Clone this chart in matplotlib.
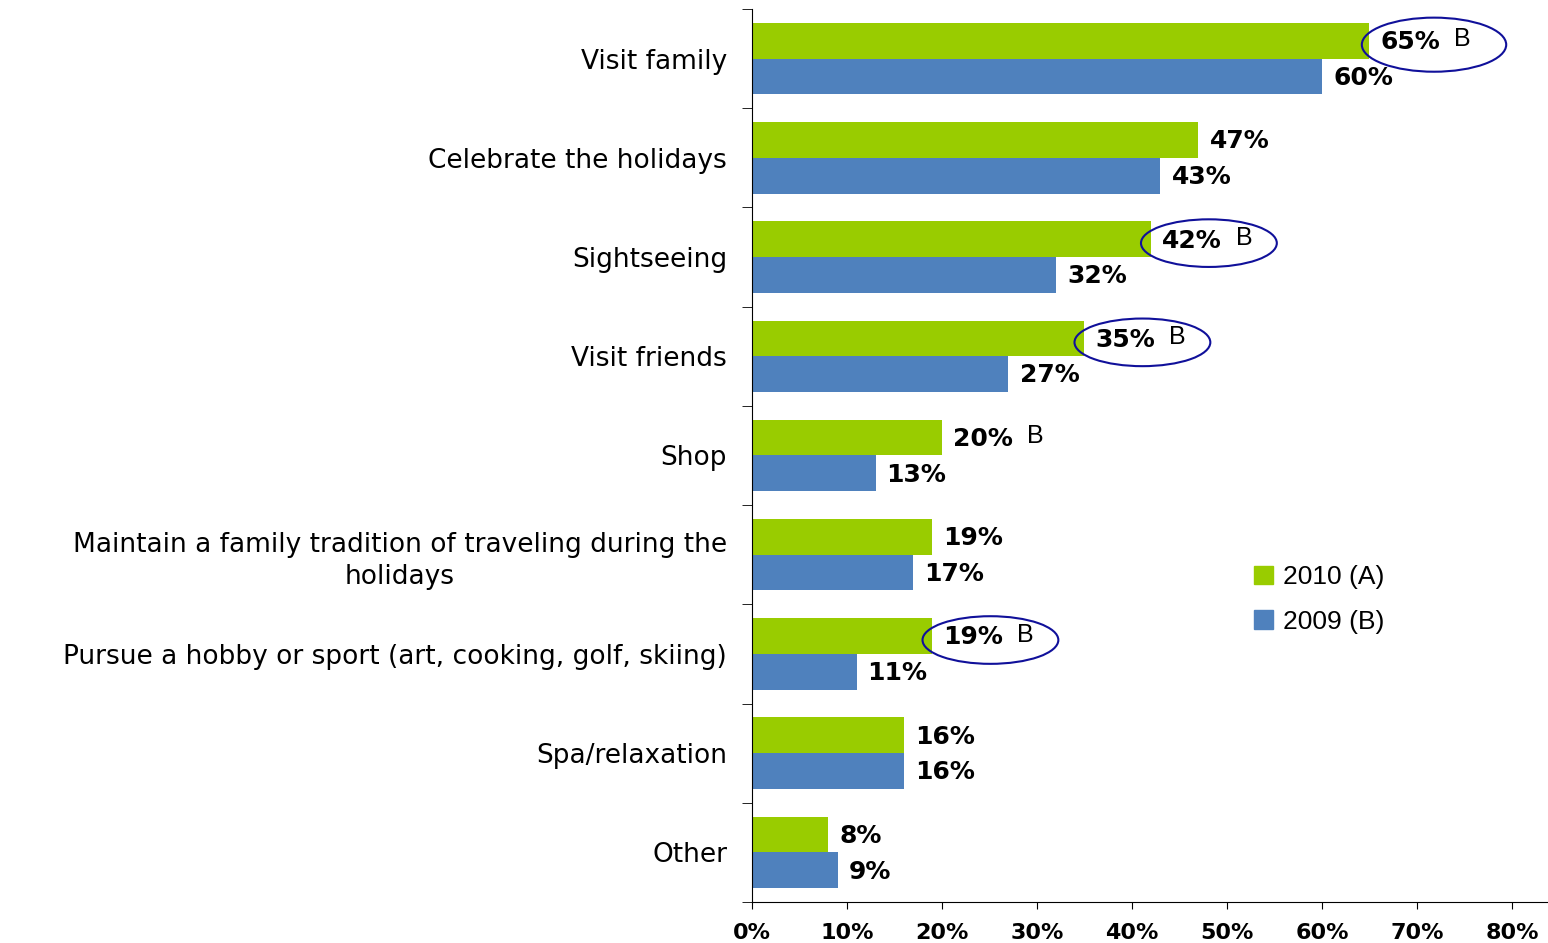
import matplotlib.pyplot as plt
from matplotlib.patches import Ellipse, Patch

plt.rcParams['font.family'] = ['DejaVu Sans']

# reasons for holiday travel, share of respondents
categories = ['Visit family', 'Celebrate the holidays', 'Sightseeing', 'Visit friends', 'Shop',
              'Maintain a family tradition of traveling during the\nholidays',
              'Pursue a hobby or sport (art, cooking, golf, skiing)', 'Spa/relaxation', 'Other']
y2010 = [65, 47, 42, 35, 20, 19, 19, 16, 8]
y2009 = [60, 43, 32, 27, 13, 17, 11, 16, 9]
sig_b = [True, False, True, True, True, False, True, False, False]       # "B" marker
circled = [True, False, True, True, False, False, True, False, False]    # ellipse around label
xticks = [0, 10, 20, 30, 40, 50, 60, 70, 80]

green = '#99CC00'
blue = '#4F81BD'
navy = '#10109A'

fig = plt.figure(figsize=(15.48, 9.43), dpi=100)
ax = fig.add_axes([0.4858, 0.0435, 0.5142, 0.947])

h = 0.36
ypos = list(range(len(categories)))
ax.barh([y - h / 2 for y in ypos], y2010, height=h, color=green, label='2010 (A)')
ax.barh([y + h / 2 for y in ypos], y2009, height=h, color=blue, label='2009 (B)')

for i, y in enumerate(ypos):
    ax.annotate('%d%%' % y2010[i], (y2010[i], y - h / 2), xytext=(8, -1), textcoords='offset points',
                va='center', ha='left', fontsize=18, fontweight='bold')
    ax.annotate('%d%%' % y2009[i], (y2009[i], y + h / 2), xytext=(8, -1), textcoords='offset points',
                va='center', ha='left', fontsize=18, fontweight='bold')
    if sig_b[i]:
        ax.annotate('B', (y2010[i], y - h / 2), xytext=(61, 1), textcoords='offset points',
                    va='center', ha='left', fontsize=18, family='Liberation Sans')
    if circled[i]:
        if i == 0:
            cx, w, eh = 6.8, 15.2, 0.545
        else:
            cx, w, eh = 6.1, 14.3, 0.48
        ax.add_patch(Ellipse((y2010[i] + cx, y - h / 2 + 0.04), w, eh, fill=False,
                             edgecolor=navy, lw=1.5, zorder=5))

ax.set_xlim(0, 83.8)
ax.set_ylim(len(categories) - 0.5, -0.5)
ax.set_xticks(xticks)
ax.set_xticklabels(['%d%%' % t for t in xticks], fontsize=16, fontweight='bold')
ax.tick_params(axis='x', direction='out', length=5, pad=10)

ax.set_yticks(ypos)
ax.set_yticklabels(categories, fontsize=19, multialignment='center', linespacing=1.3)
ax.tick_params(axis='y', length=0, pad=18)
ax.set_yticks([y - 0.5 for y in ypos] + [len(categories) - 0.5], minor=True)
ax.tick_params(axis='y', which='minor', direction='out', length=7)

for s in ['top', 'right']:
    ax.spines[s].set_visible(False)

handles = [Patch(color=green, label='2010 (A)'), Patch(color=blue, label='2009 (B)')]
fig.legend(handles=handles, loc='upper left', bbox_to_anchor=(0.795, 0.426), frameon=False,
           prop={'family': 'Liberation Sans', 'size': 19}, handlelength=0.7, handleheight=0.7,
           handletextpad=0.4, labelspacing=0.78)

plt.savefig('out.png', dpi=100)
